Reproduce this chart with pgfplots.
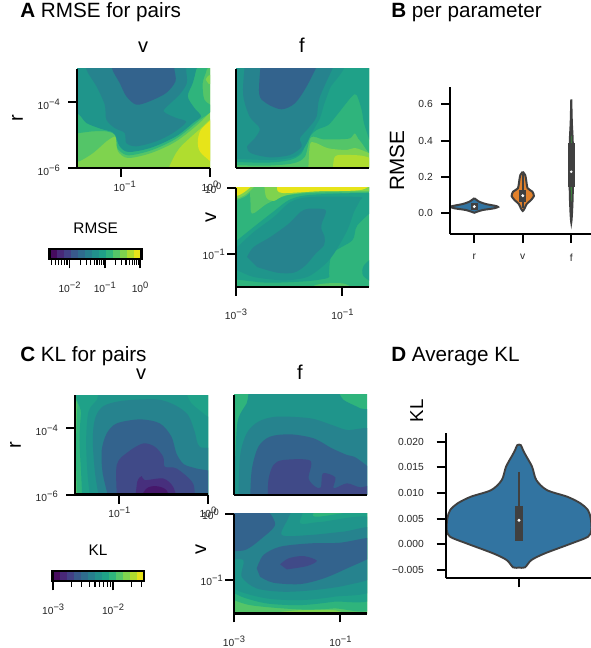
\documentclass[border=0pt]{standalone}
\usepackage{pgfplots}
\pgfplotsset{compat=1.18}
\usepackage{fontspec}
\setmainfont{Liberation Sans}
\definecolor{L0}{HTML}{46186B}\definecolor{L1}{HTML}{472F7D}\definecolor{L2}{HTML}{424086}
\definecolor{L3}{HTML}{38598C}\definecolor{L4}{HTML}{2F6C8E}\definecolor{L5}{HTML}{277F8E}
\definecolor{L6}{HTML}{21918C}\definecolor{L7}{HTML}{1FA188}\definecolor{L8}{HTML}{2FB47C}
\definecolor{L9}{HTML}{54C568}\definecolor{L10}{HTML}{7FD34E}\definecolor{L11}{HTML}{B0DD2F}
\definecolor{L12}{HTML}{E7E419}
\definecolor{B0}{HTML}{460B5E}\definecolor{B1}{HTML}{482878}
\definecolor{CC}{HTML}{33638D}\definecolor{YY}{HTML}{26838E}\definecolor{XX}{HTML}{1F958B}\definecolor{DK}{HTML}{404A88}
\definecolor{vblue}{HTML}{3274A1}\definecolor{vorange}{HTML}{E1812C}\definecolor{vgreen}{HTML}{3A923A}\definecolor{vgray}{HTML}{404040}
\newcommand{\pw}[1]{10\raisebox{0.72ex}{\fontsize{7pt}{7pt}\selectfont #1}}
\newcommand{\reg}[2]{\addplot[fill=#1,draw=none,smooth,tension=0.5,forget plot] coordinates {#2};}
\newcommand{\base}[1]{\addplot[fill=#1,draw=none,forget plot] coordinates {(-2000,-2000)(2000,-2000)(2000,2000)(-2000,2000)};}
\newcommand{\lbl}[5][]{\node[inner sep=0pt,#1] at ({#2*0.75pt},{(648-#3)*0.75pt}) {\fontsize{#4}{#4}\selectfont #5};}
\newcommand{\cell}[3]{\addplot[fill=#1,draw=none,forget plot] coordinates {(#2,0)(#3,0)(#3,1)(#2,1)};}
\pgfplotsset{
 base/.style={scale only axis,anchor=south west,axis on top,
  axis x line*=bottom,axis y line*=left,
  axis line style={-,line width=1.7pt,black},
  tick align=outside,major tick length=6.75pt,
  tick style={black,line width=1.5pt},
  every tick label/.append style={font=\fontsize{7.7pt}{7.7pt}\selectfont,text=black!85},
  xticklabel style={inner sep=1pt},yticklabel style={inner sep=1.5pt},
  minor tick num=0,scaled ticks=false},
 panel/.style={base,width=99.75pt,height=74.25pt},
 fxA1/.style={x filter/.expression={(x-630)/267},y filter/.expression={-6+(503-y)/99}},
 fxA2/.style={x filter/.expression={-3+(x-109)/398*2.5},y filter/.expression={-6+(354-y)/99}},
 fxA3/.style={x filter/.expression={-3+(x-7)/398*2.5},y filter/.expression={-1.5+(305-y)/297*1.5}},
 fxC1/.style={x filter/.expression={(x-625)/267},y filter/.expression={-6+(463-y)/99.3}},
 fxC2/.style={x filter/.expression={-3+(x-102)/398*2.5},y filter/.expression={-6+(345-y)/100}},
 fxC3/.style={x filter/.expression={-3+(x-102)/398*2.5},y filter/.expression={-1.5+(700-y)/298*1.5}},
 cbar/.style={scale only axis,anchor=south west,axis on top,
  axis line style={line width=1.7pt,black},ytick=\empty,ymin=0,ymax=1,
  xtick pos=bottom,tick align=outside,major tick length=6.75pt,minor tick length=4pt,
  major tick style={black,line width=1.3pt},minor tick style={black,line width=0.8pt},
  every tick label/.append style={font=\fontsize{7.7pt}{7.7pt}\selectfont,text=black!85}},
}
\begin{document}
\begin{tikzpicture}
\path[use as bounding box,fill=white] (0,0) rectangle (443.25pt,486pt);
% ---------- A1
\begin{axis}[panel,at={(57.75pt,360pt)},fxA1,xmin=-1.5,xmax=0,ymin=-6,ymax=-3,
 xtick={-1,0},xticklabels={\hspace*{5pt}\pw{−1},\pw{0}},ytick={-6,-4},yticklabels={\pw{−6},\pw{−4}},
 xticklabel style={yshift=-2pt},yticklabel style={xshift=-4.5pt,yshift=-2pt}]
\base{L10}
\reg{L11}{(500,530)(508,498)(528,458)(548,433)(598,388)(650,347)(680,400)(680,540)}
\reg{L12}{(650,345)(603,388)(593,428)(603,458)(650,498)}
\reg{L9}{(200,490)(236,483)(278,458)(318,423)(343,408)(348,418)(353,453)(383,473)(453,458)(528,423)(598,368)(650,315)(680,300)(680,170)(200,170)}
\reg{L10}{(617,238)(625,226)(650,222)(650,250)(625,250)}
\reg{L8}{(200,400)(236,398)(278,393)(318,393)(343,402)(348,420)(352,445)(383,465)(453,450)(528,415)(598,360)(640,325)(613,298)(608,248)(620,208)(620,170)(200,170)}
\reg{XX}{(200,320)(236,343)(258,368)(300,385)(335,395)(345,405)(358,438)(385,455)(453,442)(528,408)(580,367)(603,348)(583,323)(563,288)(578,248)(588,208)(590,170)(200,170)}
\reg{YY}{(258,170)(258,208)(288,258)(313,313)(318,358)(343,383)(373,398)(378,428)(408,438)(468,423)(518,398)(558,365)(528,353)(496,338)(493,326)(538,283)(560,248)(558,208)(558,170)}
\reg{CC}{(330,170)(336,208)(358,248)(378,288)(408,313)(448,303)(498,278)(526,243)(523,208)(523,170)}
\end{axis}
% ---------- A2
\begin{axis}[panel,at={(177pt,360pt)},fxA2,xmin=-3,xmax=-0.5,ymin=-6,ymax=-3,
 xtick=\empty,ytick=\empty]
\base{L9}
\reg{L10}{(325,370)(330,285)(345,278)(385,295)(440,300)(470,295)(530,325)(530,370)}
\reg{L11}{(398,370)(405,320)(440,315)(490,318)(530,335)(530,370)}
\reg{L8}{(80,345)(200,347)(280,340)(315,320)(333,262)(370,268)(415,268)(450,265)(465,250)(480,272)(530,310)(540,20)(80,20)}
\reg{L7}{(80,335)(200,338)(270,330)(305,310)(325,265)(350,240)(385,225)(415,190)(455,140)(470,135)(485,180)(495,230)(530,300)(540,20)(80,20)}
\reg{XX}{(80,325)(215,330)(285,320)(315,290)(335,250)(360,205)(372,165)(390,115)(420,30)(80,30)}
\reg{YY}{(138,20)(130,130)(150,200)(180,235)(165,265)(142,290)(155,310)(210,322)(270,315)(305,290)(300,265)(325,235)(350,200)(360,140)(415,20)}
\reg{CC}{(185,20)(178,130)(200,160)(245,178)(285,160)(320,110)(365,20)}
\end{axis}
% ---------- A3
\begin{axis}[panel,at={(177pt,270.75pt)},fxA3,xmin=-3,xmax=-0.5,ymin=-1.5,ymax=0,
 xtick={-3,-1},xticklabels={\pw{−3},\pw{−1}},ytick={-1,0},yticklabels={\pw{−1},\pw{0}\hspace*{2.5pt}},
 xticklabel style={yshift=-8.5pt}]
\base{L8}
\reg{L9}{(45,-20)(50,40)(55,85)(100,55)(160,30)(250,22)(430,18)(430,-20)}
\reg{L9}{(-20,-20)(70,-20)(45,25)(15,42)(-20,50)}
\reg{L10}{(90,-20)(97,35)(120,47)(155,30)(250,18)(430,15)(430,-20)}
\reg{L10}{(-20,-20)(75,-20)(45,20)(15,38)(-20,40)}
\reg{L12}{(-20,-20)(70,-20)(45,10)(15,30)(-20,35)}
\reg{L12}{(130,-20)(395,-20)(385,13)(250,18)(145,23)(130,10)}
\reg{L9}{(200,325)(250,298)(330,295)(380,325)}
\reg{L7}{(-20,185)(10,165)(60,125)(115,82)(170,42)(240,28)(430,25)(430,60)(370,120)(355,165)(295,205)(285,265)(282,278)(215,288)(100,292)(10,283)(-20,283)}
\reg{L7}{(430,205)(390,240)(388,272)(430,300)}
\reg{XX}{(-20,200)(10,185)(60,140)(120,95)(170,50)(230,35)(375,35)(378,45)(360,80)(340,135)(300,205)(270,240)(220,275)(150,285)(60,275)(10,255)(-20,250)}
\reg{YY}{(40,215)(60,185)(110,155)(165,115)(200,80)(225,70)(272,72)(275,85)(265,110)(262,130)(272,155)(270,180)(245,205)(215,240)(180,262)(130,262)(70,245)}
\end{axis}
% ---------- B
\begin{axis}[base,width=105.5pt,height=110pt,at={(337.5pt,310.5pt)},
 xmin=-0.5,xmax=2.4,ymin=-0.114,ymax=0.694,
 xtick={0,1,2},xticklabels={r,v,f},ytick={0,0.2,0.4,0.6},yticklabels={0.0,0.2,0.4,0.6},
 xticklabel style={yshift=-7pt},yticklabel style={xshift=-4.5pt}]
\addplot[fill=vblue,draw=vgray,line width=1.5pt,smooth,tension=0.35] coordinates {(0,.083)(.10,.064)(.24,.051)(.45,.040)(.49,.035)(.41,.0275)(.17,.018)(.04,.007)(0,.003)(-.04,.007)(-.17,.018)(-.41,.0275)(-.49,.035)(-.45,.040)(-.24,.051)(-.10,.064)(0,.083)};
\addplot[vgray,line width=5.5pt] coordinates {(0,.018)(0,.058)};
\addplot[only marks,mark=*,mark size=0.9pt,white] coordinates {(0,.037)};
\addplot[fill=vorange,draw=vgray,line width=1.5pt,smooth,tension=0.35] coordinates {(1,.229)(1.05,.211)(1.07,.183)(1.10,.138)(1.2,.119)(1.23,.095)(1.17,.073)(1.08,.051)(1.04,.0275)(1,.013)(.96,.0275)(.92,.051)(.83,.073)(.77,.095)(.8,.119)(.90,.138)(.93,.183)(.95,.211)(1,.229)};
\addplot[vgray,line width=1.2pt] coordinates {(1,.215)(1,.03)};
\addplot[vgray,line width=5.5pt] coordinates {(1,.128)(1,.064)};
\addplot[only marks,mark=*,mark size=0.9pt,white] coordinates {(1,.097)};
\addplot[fill=vgreen,draw=vgray,line width=1.5pt,smooth,tension=0.35] coordinates {(2,.628)(2.012,.5)(2.03,.4)(2.035,.25)(2.03,.1)(2.015,0)(2,-.05)(1.985,0)(1.97,.1)(1.965,.25)(1.97,.4)(1.988,.5)(2,.628)};
\addplot[vgray,line width=5.5pt] coordinates {(2,.385)(2,.147)};
\addplot[only marks,mark=*,mark size=0.7pt,white] coordinates {(2,.229)};
\end{axis}
% ---------- colorbar RMSE
\begin{axis}[cbar,width=69pt,height=7.7pt,at={(37.1pt,291.5pt)},xmin=-2.57,xmax=0.04,
 xtick={-2,-1,0},xticklabels={\pw{−2},\pw{−1},\pw{0}},
 minor xtick={-2.523,-2.398,-2.301,-2.222,-2.155,-2.097,-2.046,-1.699,-1.523,-1.398,-1.301,-1.222,-1.155,-1.097,-1.046,-0.699,-0.523,-0.398,-0.301,-0.222,-0.155,-0.097,-0.046},
 xticklabel style={yshift=-7pt}]
\cell{B0}{-2.57}{-2.369}\cell{B1}{-2.369}{-2.168}\cell{L2}{-2.168}{-1.968}\cell{L3}{-1.968}{-1.767}
\cell{L4}{-1.767}{-1.566}\cell{L5}{-1.566}{-1.365}\cell{L6}{-1.365}{-1.164}\cell{L7}{-1.164}{-0.964}
\cell{L8}{-0.964}{-0.763}\cell{L9}{-0.763}{-0.562}\cell{L10}{-0.562}{-0.361}\cell{L11}{-0.361}{-0.16}\cell{L12}{-0.16}{0.04}
\end{axis}
% ---------- C1
\begin{axis}[base,width=99.75pt,height=74.6pt,at={(56.25pt,115.1pt)},fxC1,xmin=-1.5,xmax=0,ymin=-6,ymax=-3,
 xtick={-1,0},xticklabels={\pw{−1},\pw{0}},ytick={-6,-4},yticklabels={\pw{−6},\pw{−4}},
 xticklabel style={yshift=-1.5pt},yticklabel style={xshift=-4.5pt,yshift=-1.5pt}]
\base{L9}
\reg{L8}{(231,490)(228,380)(228,290)(232,195)(240,130)(660,130)(660,490)}
\reg{L7}{(247,490)(243,400)(238,300)(243,220)(257,140)(660,140)(660,490)}
\reg{XX}{(272,490)(262,400)(258,300)(265,215)(290,180)(320,140)(530,140)(575,190)(621,228)(660,260)(660,490)}
\reg{YY}{(300,490)(285,400)(278,300)(285,235)(310,198)(370,182)(470,178)(525,195)(565,225)(585,275)(600,320)(660,337)(660,490)}
\reg{CC}{(330,490)(308,400)(305,330)(320,280)(350,250)(420,238)(480,250)(515,290)(530,340)(552,372)(590,385)(660,405)(660,490)}
\reg{DK}{(352,490)(350,375)(385,335)(430,310)(465,320)(490,350)(495,380)(530,385)(580,430)(585,490)}
\reg{L1}{(405,490)(412,425)(425,408)(435,420)(490,415)(520,440)(535,490)}
\reg{L0}{(410,490)(440,445)(470,438)(500,450)(515,490)}
\end{axis}
% ---------- C2
\begin{axis}[base,width=99.75pt,height=75pt,at={(175.5pt,114.75pt)},fxC2,xmin=-3,xmax=-0.5,ymin=-6,ymax=-3,
 xtick=\empty,ytick=\empty]
\base{L8}
\reg{XX}{(100,370)(108,180)(115,115)(140,70)(170,20)(385,20)(430,60)(480,85)(530,115)(530,370)}
\reg{YY}{(115,370)(120,230)(140,160)(175,125)(230,110)(330,115)(395,135)(440,150)(530,160)(530,370)}
\reg{CC}{(150,370)(155,270)(175,200)(210,170)(270,163)(340,175)(395,205)(440,225)(470,235)(530,290)(530,370)}
\reg{DK}{(203,370)(205,300)(220,255)(250,240)(330,242)(325,295)(345,320)(362,322)(368,280)(405,292)(400,325)(440,310)(480,322)(530,315)(530,370)}
\end{axis}
% ---------- C3
\begin{axis}[base,width=99.75pt,height=74.6pt,at={(175.5pt,25.9pt)},fxC3,xmin=-3,xmax=-0.5,ymin=-1.5,ymax=0,
 xtick={-3,-1},xticklabels={\pw{−3},\pw{−1}},ytick={-1,0},yticklabels={\pw{−1},\pw{0}\hspace*{3pt}},
 xticklabel style={yshift=-9pt}]
\base{L10}
\reg{L9}{(80,695)(200,698)(300,690)(400,690)(445,700)(530,697)(530,380)(80,380)}
\reg{L8}{(80,650)(150,675)(300,688)(400,685)(530,672)(530,380)(80,380)}
\reg{L7}{(80,625)(125,650)(200,670)(300,675)(400,665)(530,645)(530,408)(345,410)(335,380)(80,380)}
\reg{XX}{(80,590)(110,630)(200,655)(300,660)(400,650)(530,620)(530,420)(360,426)(300,430)(295,380)(80,380)}
\reg{YY}{(80,540)(130,540)(125,590)(170,625)(250,635)(340,630)(440,615)(530,580)(530,447)(430,455)(330,465)(245,465)(265,412)(265,380)(80,380)}
\reg{CC}{(170,565)(190,525)(240,500)(330,490)(420,488)(530,472)(530,520)(440,565)(370,595)(300,612)(220,608)(180,590)}
\reg{DK}{(240,553)(265,535)(310,528)(350,542)(320,558)(260,568)}
\reg{CC}{(80,380)(185,380)(225,432)(185,475)(135,510)(80,512)}
\end{axis}
% ---------- D
\begin{axis}[base,width=108.75pt,height=108.75pt,at={(334.3pt,52.3pt)},
 xmin=-0.5,xmax=0.489,ymin=-0.00657,ymax=0.0216,
 xtick={0},xticklabels={},ytick={-0.005,0,0.005,0.01,0.015,0.02},
 yticklabels={−0.005,0.000,0.005,0.010,0.015,0.020},
 yticklabel style={xshift=-8pt},clip=false]
\addplot[fill=vblue,draw=vgray,line width=1.4pt,smooth,tension=0.5] coordinates {(0,-.00447)(.04,-.00447)(.084,-.00304)(.175,-.00175)(.357,.00019)(.47,.00149)(.493,.00279)(.489,.00505)(.47,.00667)(.42,.00797)(.33,.00926)(.19,.01056)(.118,.0125)(.089,.01509)(.045,.01736)(.027,.01833)(.012,.0193)(-.012,.0193)(-.027,.01833)(-.045,.01736)(-.089,.01509)(-.118,.0125)(-.19,.01056)(-.33,.00926)(-.42,.00797)(-.47,.00667)(-.489,.00505)(-.493,.00279)(-.47,.00149)(-.357,.00019)(-.175,-.00175)(-.084,-.00304)(-.04,-.00447)(0,-.00447)};
\addplot[vgray,line width=1.5pt] coordinates {(0,.0141)(0,.00075)};
\addplot[vgray,line width=6pt] coordinates {(0,.0075)(0,.00075)};
\addplot[only marks,mark=*,mark size=0.9pt,white] coordinates {(0,.0047)};
\end{axis}
% ---------- colorbar KL
\begin{axis}[cbar,width=68.6pt,height=8pt,at={(39.4pt,50pt)},xmin=-3.01,xmax=-1.483,
 xtick={-3,-2},xticklabels={\pw{−3},\pw{−2}},
 minor xtick={-2.699,-2.523,-2.398,-2.301,-2.222,-2.155,-2.097,-2.046,-1.699,-1.523},
 xticklabel style={yshift=-6.5pt}]
\cell{B0}{-3.01}{-2.893}\cell{B1}{-2.893}{-2.775}\cell{L2}{-2.775}{-2.658}\cell{L3}{-2.658}{-2.54}
\cell{L4}{-2.54}{-2.423}\cell{L5}{-2.423}{-2.305}\cell{L6}{-2.305}{-2.188}\cell{L7}{-2.188}{-2.07}
\cell{L8}{-2.07}{-1.953}\cell{L9}{-1.953}{-1.835}\cell{L10}{-1.835}{-1.718}\cell{L11}{-1.718}{-1.6}\cell{L12}{-1.6}{-1.483}
\end{axis}
% ---------- texts
\lbl[anchor=base west]{20}{17.3}{15.5pt}{\textbf{A} RMSE for pairs}
\lbl[anchor=base west]{391}{17.3}{15.5pt}{\textbf{B} per parameter}
\lbl[anchor=base west]{20}{361.7}{15.5pt}{\textbf{C} KL for pairs}
\lbl[anchor=base west]{391}{361.7}{15.5pt}{\textbf{D} Average KL}
\lbl[anchor=base]{143}{53}{15pt}{v}
\lbl[anchor=base]{302}{53}{15pt}{f}
\lbl[anchor=base]{141}{380}{15pt}{v}
\lbl[anchor=base]{300}{380}{15pt}{f}
\lbl[anchor=base,rotate=90]{23}{118}{15pt}{r}
\lbl[anchor=base,rotate=90]{21}{445}{15pt}{r}
\lbl[anchor=base,rotate=90]{216}{218}{15pt}{v}
\lbl[anchor=base,rotate=90]{206}{550}{15pt}{v}
\lbl[anchor=base,rotate=90]{404}{161}{15.5pt}{RMSE}
\lbl[anchor=base,rotate=90]{423}{411}{14pt}{KL}
\lbl{95.6}{228}{11.5pt}{RMSE}
\lbl{98}{550.7}{11.5pt}{KL}
\end{tikzpicture}
\end{document}
